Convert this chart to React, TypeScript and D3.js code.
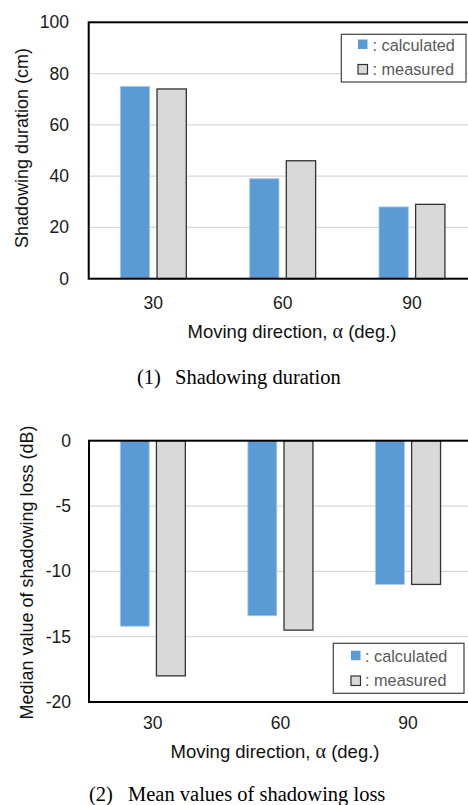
import React from "react";
import * as d3 from "d3";

const categories = ["30", "60", "90"];
const seriesNames = ["calculated", "measured"];

const durationCalculated = [75, 39, 28];
const durationMeasured = [74, 46, 29];
const durationTicks = [0, 20, 40, 60, 80, 100];

const lossCalculated = [-14.2, -13.4, -11];
const lossMeasured = [-18, -14.5, -11];
const lossTicks = [0, -5, -10, -15, -20];

const BLUE = "#5B9BD5";
const GRAY = "#D9D9D9";
const SANS = "'Liberation Sans', Arial, sans-serif";
const SERIF = "'Liberation Serif', 'Times New Roman', serif";

type ChartProps = {
  left: number; right: number; frameRight: number; top: number; bottom: number;
  domain: [number, number];
  ticks: number[];
  calc: number[]; meas: number[];
  yTitle: string; yTitleX: number; yTitleY: number;
  tickLabelRight: number;
  xTickY: number;
  xTitleX: number; xTitleY: number;
  legend: { x: number; y: number; w: number; h: number; markerX: number; textX: number; row1: number; row2: number };
  caption: { num: string; text: string; numX: number; textX: number; y: number };
};

function Chart(p: ChartProps) {
  const y = d3.scaleLinear().domain(p.domain).range([p.bottom, p.top]);
  const x0 = d3.scaleBand<string>().domain(categories).range([p.left, p.right]).paddingInner(0.49).paddingOuter(0.245);
  const x1 = d3.scaleBand<string>().domain(seriesNames).range([0, x0.bandwidth()]).paddingInner(0.2);
  const values: Record<string, number[]> = { calculated: p.calc, measured: p.meas };
  const zero = y(0);
  return (
    <g>
      {p.ticks.map((t) => (
        <g key={"g" + t}>
          {t !== p.domain[0] && t !== p.domain[1] && (
            <line x1={p.left} x2={p.frameRight} y1={y(t)} y2={y(t)} stroke="#D9D9D9" strokeWidth={1.3} />
          )}
          <text x={p.tickLabelRight} y={y(t) + 6} textAnchor="end" fontFamily={SANS} fontSize={17.5} fill="#1a1a1a">
            {t}
          </text>
        </g>
      ))}
      {categories.map((c, i) =>
        seriesNames.map((s) => {
          const v = values[s][i];
          const yv = y(v);
          const bx = (x0(c) as number) + (x1(s) as number);
          const isCalc = s === "calculated";
          return (
            <rect
              key={c + s}
              x={bx}
              y={Math.min(yv, zero)}
              width={x1.bandwidth()}
              height={Math.abs(yv - zero)}
              fill={isCalc ? BLUE : GRAY}
              stroke={isCalc ? "#a9cbea" : "#333333"}
              strokeWidth={isCalc ? 0.8 : 1.3}
            />
          );
        })
      )}
      <rect x={p.left} y={p.top} width={p.frameRight - p.left} height={p.bottom - p.top} fill="none" stroke="#000" strokeWidth={2} />
      {categories.map((c) => (
        <text key={"x" + c} x={(x0(c) as number) + x0.bandwidth() / 2} y={p.xTickY} textAnchor="middle" fontFamily={SANS} fontSize={17.5} fill="#1a1a1a">
          {c}
        </text>
      ))}
      <text x={p.xTitleX} y={p.xTitleY} textAnchor="middle" fontFamily={SANS} fontSize={18.5} fill="#111">
        Moving direction, <tspan fontFamily={SERIF} fontSize={20}>α</tspan> (deg.)
      </text>
      <text transform={`translate(${p.yTitleX},${p.yTitleY}) rotate(-90)`} textAnchor="middle" fontFamily={SANS} fontSize={18} fill="#111">
        {p.yTitle}
      </text>
      <g>
        <rect x={p.legend.x} y={p.legend.y} width={p.legend.w} height={p.legend.h} fill="#fff" stroke="#404040" strokeWidth={1.2} />
        <rect x={p.legend.markerX} y={p.legend.row1 - 11} width={9.5} height={9.5} fill={BLUE} />
        <rect x={p.legend.markerX} y={p.legend.row2 - 10} width={9.5} height={9.5} fill={GRAY} stroke="#333" strokeWidth={1.2} />
        <text x={p.legend.textX} y={p.legend.row1} fontFamily={SANS} fontSize={16.3} fill="#595959">: calculated</text>
        <text x={p.legend.textX} y={p.legend.row2} fontFamily={SANS} fontSize={16.3} fill="#595959">: measured</text>
      </g>
      <text x={p.caption.numX} y={p.caption.y} fontFamily={SERIF} fontSize={20.5} fill="#000">{p.caption.num}</text>
      <text x={p.caption.textX} y={p.caption.y} fontFamily={SERIF} fontSize={20.5} fill="#000">{p.caption.text}</text>
    </g>
  );
}

export default function App() {
  return (
    <svg width={468} height={805} style={{ position: "absolute", left: 0, top: 0, background: "#fff" }}>
      <Chart
        left={88.7} right={476.6} frameRight={480} top={22.3} bottom={278.7}
        domain={[0, 100]} ticks={durationTicks}
        calc={durationCalculated} meas={durationMeasured}
        yTitle="Shadowing duration (cm)" yTitleX={28} yTitleY={148}
        tickLabelRight={69}
        xTickY={308.5}
        xTitleX={292} xTitleY={338}
        legend={{ x: 341.3, y: 34.3, w: 124.7, h: 47.7, markerX: 358, textX: 372.5, row1: 50.5, row2: 74.5 }}
        caption={{ num: "(1)", text: "Shadowing duration", numX: 137, textX: 175, y: 383.5 }}
      />
      <Chart
        left={89} right={471.8} frameRight={480} top={440.7} bottom={702}
        domain={[-20, 0]} ticks={lossTicks}
        calc={lossCalculated} meas={lossMeasured}
        yTitle="Median value of shadowing loss (dB)" yTitleX={33} yTitleY={572.5}
        tickLabelRight={71}
        xTickY={729}
        xTitleX={275} xTitleY={758}
        legend={{ x: 333.3, y: 643.3, w: 130.7, h: 50, markerX: 351, textX: 365, row1: 661.7, row2: 686 }}
        caption={{ num: "(2)", text: "Mean values of shadowing loss", numX: 89, textX: 128, y: 801 }}
      />
    </svg>
  );
}
